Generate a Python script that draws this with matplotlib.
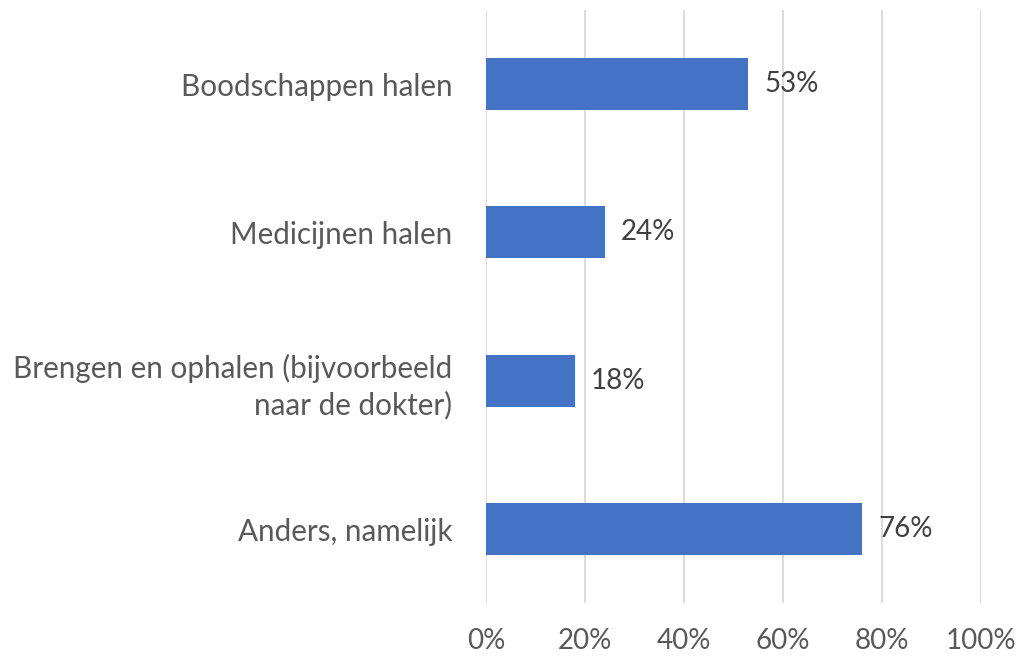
import matplotlib.pyplot as plt
from matplotlib.ticker import PercentFormatter

categories = ['Boodschappen halen', 'Medicijnen halen',
              'Brengen en ophalen (bijvoorbeeld\nnaar de dokter)', 'Anders, namelijk']
values = [53, 24, 18, 76]
ticks = [0, 20, 40, 60, 80, 100]

plt.rcParams['font.family'] = ['Lato', 'DejaVu Sans']

fig = plt.figure(figsize=(10.23, 6.6), dpi=100)
ax = fig.add_axes([0.475, 0.086, 0.484, 0.899])

pos = list(range(len(categories)))[::-1]
ax.barh(pos, values, height=0.35, color='#4472C4', zorder=3)
for p, v in zip(pos, values):
    ax.text(v + 3.2, p, f'{v}%', va='center', ha='left', fontsize=20, color='#404040')

ax.set_xlim(0, 100)
ax.set_ylim(-0.5, 3.5)
ax.set_xticks(ticks)
ax.xaxis.set_major_formatter(PercentFormatter(decimals=0))
ax.set_yticks(pos)
ax.set_yticklabels(categories, ha='right', multialignment='right', linespacing=1.3)
ax.tick_params(axis='both', length=0, labelsize=20, labelcolor='#595959')
ax.tick_params(axis='y', pad=24, labelsize=21.3)
ax.tick_params(axis='x', pad=18)
ax.grid(axis='x', color='#D9D9D9', linewidth=1.3, zorder=0)
for s in ax.spines.values():
    s.set_visible(False)

fig.savefig('out.png', dpi=100)
